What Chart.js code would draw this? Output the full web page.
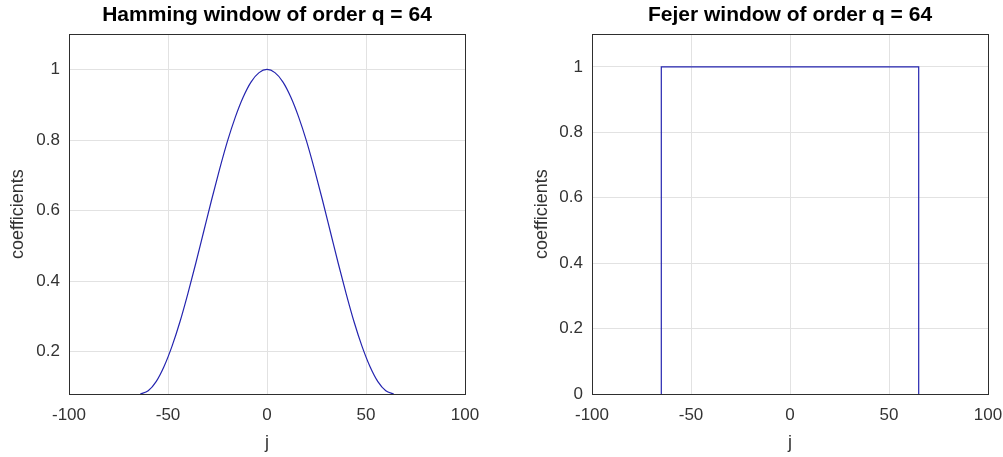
<!DOCTYPE html>
<html>
<head>
<meta charset="utf-8">
<script src="https://cdn.jsdelivr.net/npm/chart.js@4.4.1/dist/chart.umd.min.js"></script>
<style>
  html, body { margin: 0; padding: 0; background: #fff; }
  #wrap { position: relative; width: 1003px; height: 457px; }
  .panel { position: absolute; top: 0; height: 457px; }
</style>
</head>
<body>
<div id="wrap">
  <div class="panel" style="left:0;width:501px"><canvas id="hamming" width="501" height="457"></canvas></div>
  <div class="panel" style="left:501px;width:502px"><canvas id="fejer" width="502" height="457"></canvas></div>
</div>
<script>
// lags j and window coefficients
const hammingJ = [-64, -60, -56, -52, -48, -44, -40, -36, -32, -28, -24, -20, -16, -12, -8, -4,
  0, 4, 8, 12, 16, 20, 24, 28, 32, 36, 40, 44, 48, 52, 56, 60, 64];
const hammingW = [0.080, 0.089, 0.115, 0.158, 0.215, 0.284, 0.364, 0.450, 0.540, 0.630, 0.716, 0.796, 0.865, 0.922, 0.965, 0.991,
  1.000, 0.991, 0.965, 0.922, 0.865, 0.796, 0.716, 0.630, 0.540, 0.450, 0.364, 0.284, 0.215, 0.158, 0.115, 0.089, 0.080];

const fejerJ = [-65, -65, 65, 65];
const fejerW = [0, 1, 1, 0];

const xTicks = [-100, -50, 0, 50, 100];
const hammingYTicks = [0.2, 0.4, 0.6, 0.8, 1];
const fejerYTicks = [0, 0.2, 0.4, 0.6, 0.8, 1];

const FONT = "'Liberation Sans', Arial, sans-serif";
const LINE = 'rgb(36,36,175)';

// full box around the plot area, like matlab's "box on"
const boxPlugin = {
  id: 'box',
  afterDraw(chart) {
    const a = chart.chartArea;
    const c = chart.ctx;
    c.save();
    c.strokeStyle = '#2e2e2e';
    c.lineWidth = 1;
    c.strokeRect(Math.round(a.left) + 0.5, Math.round(a.top) + 0.5, Math.round(a.right - a.left), Math.round(a.bottom - a.top));
    c.restore();
  }
};

function makeChart(id, title, xs, ys, yMin, yTicks, yWidth, yTitlePad, rightPad) {
  const pts = xs.map((x, i) => ({ x: x, y: ys[i] }));
  return new Chart(document.getElementById(id), {
    type: 'line',
    data: {
      datasets: [{
        data: pts,
        borderColor: LINE,
        borderWidth: 1.2,
        pointRadius: 0,
        fill: false,
        tension: id === 'hamming' ? 0.4 : 0,
        cubicInterpolationMode: id === 'hamming' ? 'monotone' : 'default'
      }]
    },
    options: {
      responsive: false,
      animation: false,
      layout: { padding: { left: 0, right: rightPad, top: 0, bottom: 0 } },
      plugins: {
        legend: { display: false },
        tooltip: { enabled: false },
        title: {
          display: true,
          fullSize: false,
          text: title,
          color: '#000',
          font: { family: FONT, size: 21, weight: 'bold' },
          padding: { top: 3, bottom: 6 }
        }
      },
      scales: {
        x: {
          type: 'linear',
          min: -100,
          max: 100,
          afterBuildTicks: axis => { axis.ticks = xTicks.map(v => ({ value: v })); },
          afterFit: axis => { axis.height = 63; axis.paddingLeft = 0; axis.paddingRight = 0; },
          grid: { color: '#e2e2e2', drawTicks: false },
          border: { display: false },
          ticks: { color: '#333', font: { family: FONT, size: 17 }, padding: 11, maxRotation: 0 },
          title: { display: true, text: 'j', color: '#333', font: { family: FONT, size: 18 }, padding: { top: 0, bottom: 3 } }
        },
        y: {
          min: yMin,
          max: 1.1,
          afterBuildTicks: axis => { axis.ticks = yTicks.map(v => ({ value: v })); },
          afterFit: axis => { axis.width = yWidth; axis.paddingTop = 0; axis.paddingBottom = 0; },
          grid: { color: '#e2e2e2', drawTicks: false },
          border: { display: false },
          ticks: { color: '#333', font: { family: FONT, size: 17 }, padding: 9, callback: v => String(v) },
          title: { display: true, text: 'coefficients', color: '#333', font: { family: FONT, size: 18 }, padding: { top: yTitlePad, bottom: 0 } }
        }
      }
    },
    plugins: [boxPlugin]
  });
}

makeChart('hamming', 'Hamming window of order q = 64', hammingJ, hammingW, 0.08, hammingYTicks, 69, 7, 36);
makeChart('fejer', 'Fejer window of order q = 64', fejerJ, fejerW, 0, fejerYTicks, 91, 30, 15);
</script>
</body>
</html>
